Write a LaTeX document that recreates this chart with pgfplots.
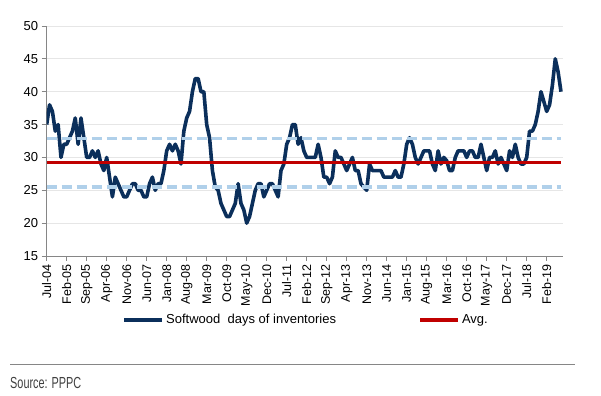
\documentclass[border=0pt]{standalone}
\usepackage{pgfplots}
\pgfplotsset{compat=1.18}
\usepackage{fontspec}
\setmainfont{Liberation Sans}
\usepackage{graphicx}
\definecolor{navy}{HTML}{0B2F5B}
\definecolor{avgred}{HTML}{C00000}
\definecolor{lblue}{HTML}{B0D0EA}
\definecolor{gridgray}{HTML}{E6E6E6}
\definecolor{axgray}{HTML}{868686}
\begin{document}
\begin{tikzpicture}
\useasboundingbox (0,0) rectangle (601bp,396bp);
\begin{axis}[
 at={(46.7bp,140bp)}, anchor=south west,
 scale only axis, width=516bp, height=230bp,
 xmin=0, xmax=180.6, ymin=15, ymax=50,
 axis lines*=left,
 axis line style={draw=axgray, line width=0.8bp, -},
 ytick={15,20,...,50},
 xtick={0,7,...,175},
 xticklabels={Jul-04,Feb-05,Sep-05,Apr-06,Nov-06,Jun-07,Jan-08,Aug-08,Mar-09,Oct-09,May-10,Dec-10,Jul-11,Feb-12,Sep-12,Apr-13,Nov-13,Jun-14,Jan-15,Aug-15,Mar-16,Oct-16,May-17,Dec-17,Jul-18,Feb-19},
 ymajorgrids, grid style={draw=gridgray, line width=0.8bp},
 tick align=outside, major tick length=5bp,
 tick style={draw=axgray, line width=0.8bp},
 xticklabel style={rotate=90, anchor=east, font=\fontsize{12.5bp}{14bp}\selectfont},
 yticklabel style={font=\fontsize{13bp}{15bp}\selectfont},
 /pgf/number format/assume math mode=true,
 legend columns=2,
 legend style={at={(0.146,-0.278)}, anchor=west, draw=none, fill=none, inner sep=0pt,
   font=\fontsize{13bp}{15bp}\selectfont,
   /tikz/every even column/.append style={column sep=80bp}},
 legend image code/.code={\draw[#1, line width=4bp] (0,0) -- (38bp,0);},
]
\addplot[navy, line width=3.6bp, line join=round] coordinates {
(0,35)(1,38)(2,37)(3,34)(4,35)(5,30)(6,32)(7,32)(8,33)(9,34)
(10,36)(11,32)(12,36)(13,33)(14,30)(15,30)(16,31)(17,30)(18,31)(19,29)
(20,28)(21,30)(22,27)(23,24)(24,27)(25,26)(26,25)(27,24)(28,24)(29,25)
(30,26)(31,26)(32,25)(33,25)(34,24)(35,24)(36,26)(37,27)(38,25)(39,26)
(40,26)(41,28)(42,31)(43,32)(44,31)(45,32)(46,31)(47,29)(48,34)(49,36)
(50,37)(51,40)(52,42)(53,42)(54,40)(55,40)(56,35)(57,33)(58,28)(59,25.5)
(60,25)(61,23)(62,22)(63,21)(64,21)(65,22)(66,23)(67,26)(68,23)(69,22)
(70,20)(71,21)(72,23)(73,25)(74,26)(75,26)(76,24)(77,25)(78,26)(79,26)
(80,25)(81,24)(82,28)(83,29)(84,32)(85,33)(86,35)(87,35)(88,32)(89,33)
(90,31)(91,30)(92,30)(93,30)(94,30)(95,32)(96,30)(97,27)(98,27)(99,26)
(100,27)(101,31)(102,30)(103,30)(104,29)(105,28)(106,29)(107,30)(108,28)(109,28)
(110,26)(111,25.5)(112,25)(113,29)(114,28)(115,28)(116,28)(117,28)(118,27)(119,27)
(120,27)(121,27)(122,28)(123,27)(124,27)(125,29)(126,32)(127,33)(128,32)(129,30)
(130,29)(131,30)(132,31)(133,31)(134,31)(135,29)(136,28)(137,31)(138,29)(139,30)
(140,29.5)(141,28)(142,28)(143,30)(144,31)(145,31)(146,31)(147,30)(148,31)(149,31)
(150,30)(151,30)(152,32)(153,30)(154,28)(155,30)(156,30)(157,31)(158,29)(159,30)
(160,29)(161,28)(162,31)(163,30)(164,32)(165,30)(166,29)(167,29)(168,30)(169,34)
(170,34)(171,35)(172,37)(173,40)(174,38.5)(175,37)(176,38)(177,41)(178,45)(179,43)
(180,40)
};
\addlegendentry{Softwood\ \ days of inventories}
\addplot[avgred, line width=3bp] coordinates {(0,29.2)(180,29.2)};
\addlegendentry{Avg.}
\addplot[lblue, line width=3.5bp, dash pattern=on 10bp off 5bp, forget plot] coordinates {(0,32.9)(180,32.9)};
\addplot[lblue, line width=3.5bp, dash pattern=on 10bp off 5bp, forget plot] coordinates {(0,25.5)(180,25.5)};
\end{axis}
\draw[axgray, line width=1bp] (10bp,31bp) -- (575bp,31bp);
\node[anchor=base west, inner sep=0pt, text=black!75] at (10bp,8bp) {\scalebox{0.68}[1]{\fontsize{16bp}{18bp}\selectfont Source: PPPC}};
\end{tikzpicture}
\end{document}
